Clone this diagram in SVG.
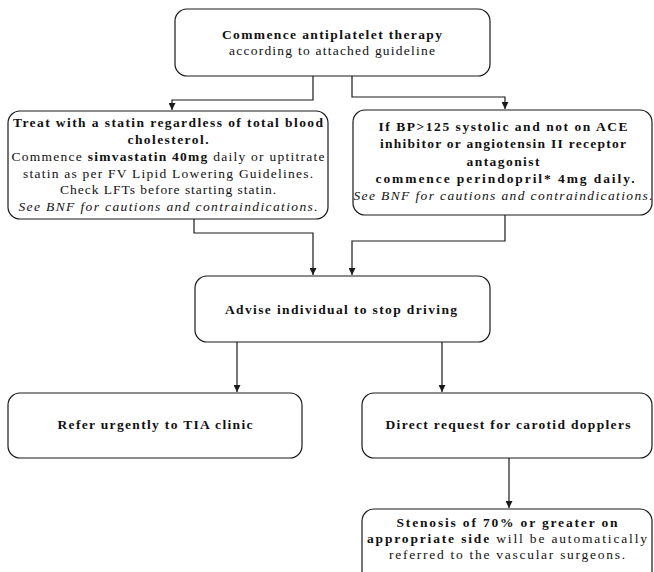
<svg xmlns="http://www.w3.org/2000/svg" width="654" height="572" viewBox="0 0 654 572">
  <style>
    .box { fill: #ffffff; stroke: #1a1a1a; stroke-width: 1.2; }
    .wire { fill: none; stroke: #1a1a1a; stroke-width: 1.2; }
    text { font-family: "Liberation Serif", "Times New Roman", serif; font-size: 13.5px; fill: #111; text-anchor: middle; }
    .b { font-weight: bold; }
    .i { font-style: italic; }
  </style>
  <defs>
    <marker id="arrow" viewBox="0 0 8 8" refX="8" refY="4" markerWidth="7" markerHeight="7" markerUnits="userSpaceOnUse" orient="auto">
      <path d="M0,0 L8,4 L0,8 Z" fill="#1a1a1a"/>
    </marker>
  </defs>

  <rect width="654" height="572" fill="#ffffff"/>

  <!-- connectors -->
  <g id="connectors">
    <path class="wire" d="M313,76 V100 H172 V110" marker-end="url(#arrow)"/>
    <path class="wire" d="M352,76 V97 H505 V109" marker-end="url(#arrow)"/>
    <path class="wire" d="M194,208 V233 H313 V275" marker-end="url(#arrow)"/>
    <path class="wire" d="M505,215 V241 H352 V275" marker-end="url(#arrow)"/>
    <path class="wire" d="M237,342 V392" marker-end="url(#arrow)"/>
    <path class="wire" d="M442,342 V392" marker-end="url(#arrow)"/>
    <path class="wire" d="M509,458 V508" marker-end="url(#arrow)"/>
  </g>

  <!-- start: antiplatelet therapy -->
  <g id="antiplatelet">
    <rect class="box" x="175" y="9" width="315" height="67" rx="12"/>
    <text x="332" y="39" class="b" textLength="220" lengthAdjust="spacing">Commence antiplatelet therapy</text>
    <text x="332" y="55" textLength="206" lengthAdjust="spacing">according to attached guideline</text>
  </g>

  <!-- statin branch -->
  <g id="statin">
    <rect class="box" x="8" y="111" width="320" height="108" rx="12"/>
    <text x="168" y="127" class="b" textLength="310" lengthAdjust="spacing">Treat with a statin regardless of total blood</text>
    <text x="168" y="144" class="b" textLength="81" lengthAdjust="spacing">cholesterol.</text>
    <text x="168" y="161" textLength="313" lengthAdjust="spacing">Commence <tspan class="b">simvastatin 40mg</tspan> daily or uptitrate</text>
    <text x="168" y="178" textLength="290" lengthAdjust="spacing">statin as per FV Lipid Lowering Guidelines.</text>
    <text x="168" y="194" textLength="216" lengthAdjust="spacing">Check LFTs before starting statin.</text>
    <text x="168" y="211" class="i" textLength="299" lengthAdjust="spacing">See BNF for cautions and contraindications.</text>
  </g>

  <!-- blood pressure branch -->
  <g id="perindopril">
    <rect class="box" x="353" y="110" width="299" height="105" rx="12"/>
    <text x="503" y="131" class="b" textLength="249" lengthAdjust="spacing">If BP&gt;125 systolic and not on ACE</text>
    <text x="503" y="148" class="b" textLength="246" lengthAdjust="spacing">inhibitor or angiotensin II receptor</text>
    <text x="503" y="166" class="b" textLength="73" lengthAdjust="spacing">antagonist</text>
    <text x="505" y="183" class="b" textLength="259" lengthAdjust="spacing">commence perindopril* 4mg daily.</text>
    <text x="503" y="200" class="i" textLength="299" lengthAdjust="spacing">See BNF for cautions and contraindications.</text>
  </g>

  <!-- driving advice -->
  <g id="driving">
    <rect class="box" x="195" y="276" width="295" height="66" rx="12"/>
    <text x="341" y="314" class="b" textLength="232" lengthAdjust="spacing">Advise individual to stop driving</text>
  </g>

  <!-- TIA clinic referral -->
  <g id="tia-clinic">
    <rect class="box" x="8" y="393" width="294" height="65" rx="12"/>
    <text x="155" y="429" class="b" textLength="195" lengthAdjust="spacing">Refer urgently to TIA clinic</text>
  </g>

  <!-- carotid dopplers -->
  <g id="dopplers">
    <rect class="box" x="362" y="393" width="290" height="65" rx="12"/>
    <text x="508" y="429" class="b" textLength="245" lengthAdjust="spacing">Direct request for carotid dopplers</text>
  </g>

  <!-- stenosis outcome -->
  <g id="stenosis">
    <rect class="box" x="362" y="509" width="290" height="80" rx="12"/>
    <text x="507" y="527" class="b" textLength="221" lengthAdjust="spacing">Stenosis of 70% or greater on</text>
    <text x="507" y="543" textLength="280" lengthAdjust="spacing"><tspan class="b">appropriate side</tspan> will be automatically</text>
    <text x="507" y="559" textLength="236" lengthAdjust="spacing">referred to the vascular surgeons.</text>
  </g>
</svg>
